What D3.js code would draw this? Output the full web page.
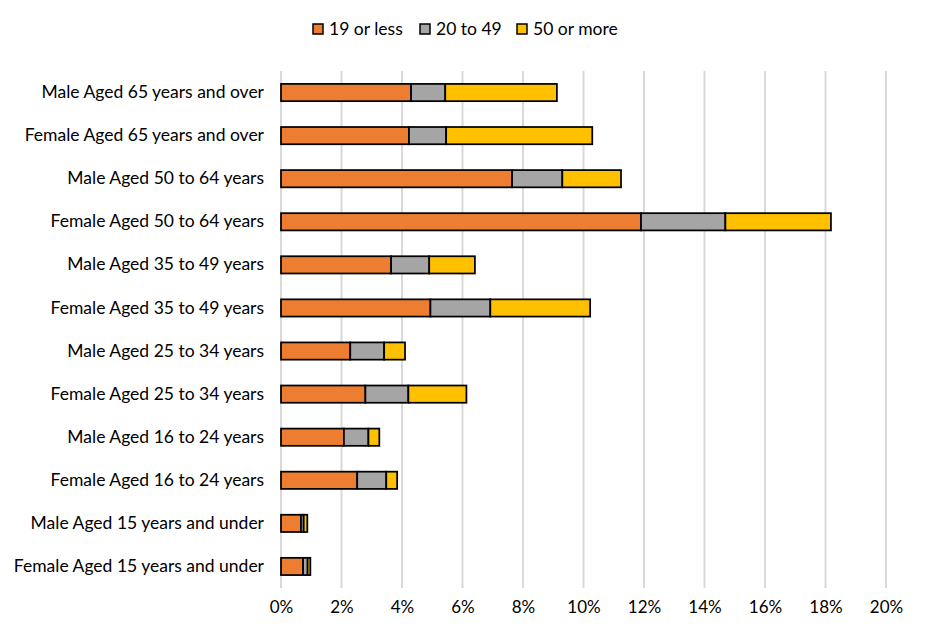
<!DOCTYPE html>
<html>
<head>
<meta charset="utf-8">
<script src="https://cdn.jsdelivr.net/npm/d3@7"></script>
<style>
  body { margin: 0; background: #fff; }
  text { font-family: Lato, "Open Sans", sans-serif; fill: #000; }
</style>
</head>
<body>
<script>
// categories, top to bottom
var categories = [
  "Male Aged 65 years and over",
  "Female Aged 65 years and over",
  "Male Aged 50 to 64 years",
  "Female Aged 50 to 64 years",
  "Male Aged 35 to 49 years",
  "Female Aged 35 to 49 years",
  "Male Aged 25 to 34 years",
  "Female Aged 25 to 34 years",
  "Male Aged 16 to 24 years",
  "Female Aged 16 to 24 years",
  "Male Aged 15 years and under",
  "Female Aged 15 years and under"
];
var seriesNames = ["19 or less", "20 to 49", "50 or more"];
// values in percent
var lessThan20 = [4.30, 4.23, 7.64, 11.90, 3.64, 4.94, 2.29, 2.79, 2.08, 2.52, 0.66, 0.73];
var from20to49 = [1.13, 1.23, 1.66, 2.79, 1.26, 1.98, 1.12, 1.42, 0.81, 0.96, 0.09, 0.15];
var over50     = [3.69, 4.83, 1.94, 3.49, 1.51, 3.30, 0.69, 1.92, 0.36, 0.36, 0.12, 0.09];
var xTicks = [0, 2, 4, 6, 8, 10, 12, 14, 16, 18, 20];
var colors = ["#ed7d31", "#a5a5a5", "#ffc000"];

var data = categories.map(function(c, i) {
  return { cat: c, 0: lessThan20[i], 1: from20to49[i], 2: over50[i] };
});
var layers = d3.stack().keys([0, 1, 2])(data);

var W = 926, H = 636;
var margin = {top: 71, right: 40, bottom: 48, left: 281};
var width = 886 - margin.left,
    height = 588 - margin.top;

var svg = d3.select("body").append("svg")
    .attr("width", W)
    .attr("height", H);
var g = svg.append("g")
    .attr("transform", "translate(" + margin.left + "," + margin.top + ")");

var x = d3.scaleLinear().domain([0, 20]).range([0, width]);
var y = d3.scaleBand().domain(categories).range([0, height]).paddingInner(0.6).paddingOuter(0.3);

// gridlines
g.append("g").selectAll("line")
  .data(xTicks)
  .enter().append("line")
    .attr("x1", function(d) { return x(d); })
    .attr("x2", function(d) { return x(d); })
    .attr("y1", 0)
    .attr("y2", height)
    .attr("stroke", "#d9d9d9")
    .attr("stroke-width", 2);

// bars
var layer = g.selectAll(".layer")
  .data(layers)
  .enter().append("g")
    .attr("class", "layer")
    .attr("fill", function(d, i) { return colors[i]; });

layer.selectAll("rect")
  .data(function(d) { return d; })
  .enter().append("rect")
    .attr("x", function(d) { return x(d[0]); })
    .attr("y", function(d) { return y(d.data.cat); })
    .attr("width", function(d) { return x(d[1]) - x(d[0]); })
    .attr("height", y.bandwidth())
    .attr("stroke", "#000")
    .attr("stroke-width", 1.75);

// x axis
var xAxis = d3.axisBottom(x)
  .tickValues(xTicks)
  .tickSize(0)
  .tickPadding(13)
  .tickFormat(function(d) { return d + "%"; });
var xg = g.append("g")
  .attr("transform", "translate(0," + height + ")")
  .call(xAxis);
xg.select(".domain").remove();
xg.selectAll("text").style("font-size", "17px").style("font-family", "Lato, sans-serif");

// y labels
var yAxis = d3.axisLeft(y).tickSize(0).tickPadding(17);
var yg = g.append("g").call(yAxis);
yg.select(".domain").remove();
yg.selectAll("text").style("font-size", "17.5px").style("font-family", "Lato, sans-serif");

// legend
var legendX = [313, 420, 517];
var legend = svg.append("g").selectAll("g")
  .data(seriesNames)
  .enter().append("g")
    .attr("transform", function(d, i) { return "translate(" + legendX[i] + ",24)"; });
legend.append("rect")
  .attr("width", 10)
  .attr("height", 10)
  .attr("fill", function(d, i) { return colors[i]; })
  .attr("stroke", "#000")
  .attr("stroke-width", 1.5);
legend.append("text")
  .attr("x", 16)
  .attr("y", 5)
  .attr("dy", "0.35em")
  .style("font-size", "17.5px")
  .text(function(d) { return d; });
</script>
</body>
</html>
